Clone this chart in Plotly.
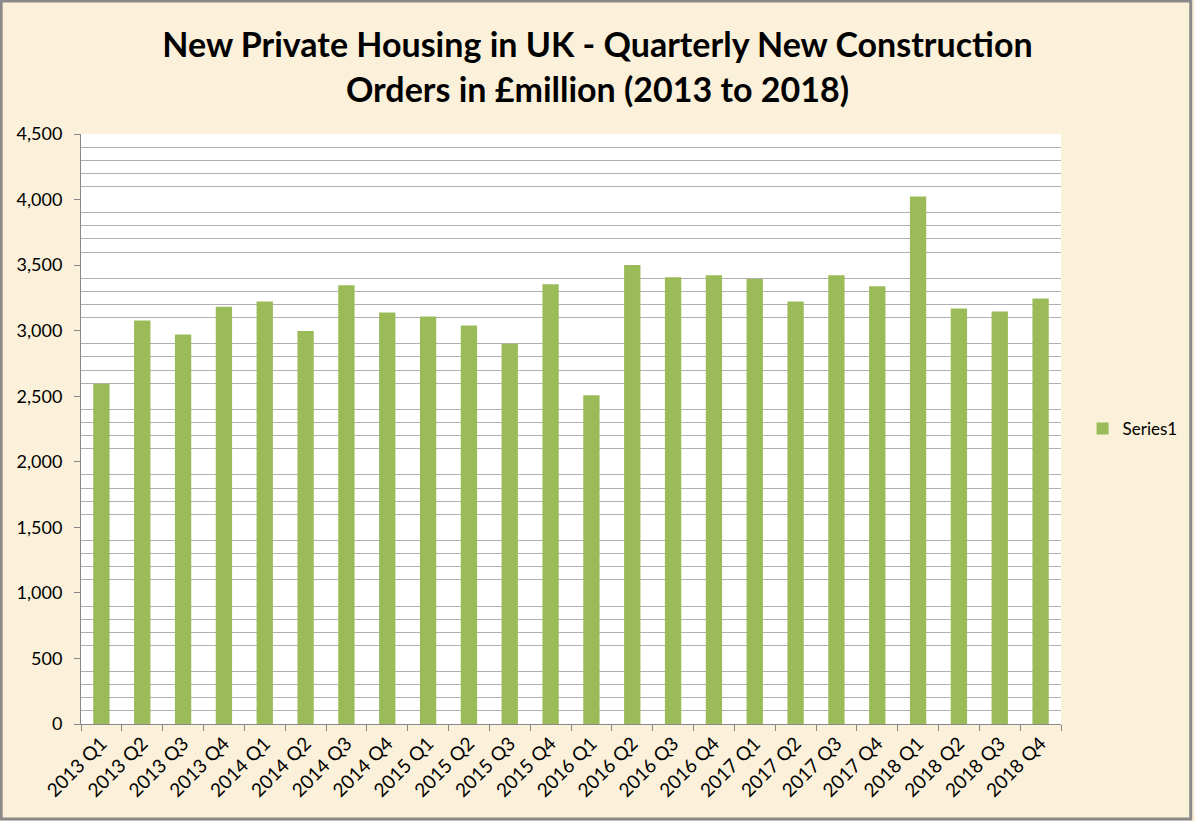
import plotly.graph_objects as go

# quarterly new construction orders, £ million
quarters = ["2013 Q1", "2013 Q2", "2013 Q3", "2013 Q4",
            "2014 Q1", "2014 Q2", "2014 Q3", "2014 Q4",
            "2015 Q1", "2015 Q2", "2015 Q3", "2015 Q4",
            "2016 Q1", "2016 Q2", "2016 Q3", "2016 Q4",
            "2017 Q1", "2017 Q2", "2017 Q3", "2017 Q4",
            "2018 Q1", "2018 Q2", "2018 Q3", "2018 Q4"]
orders = [2595, 3078, 2970, 3183,
          3222, 2997, 3346, 3138,
          3108, 3040, 2900, 3354,
          2508, 3500, 3408, 3423,
          3395, 3223, 3423, 3338,
          4023, 3169, 3146, 3246]

W, H = 1195, 821
ml, mr, mt, mb = 81, 132, 134, 97
pw, ph = W - ml - mr, H - mt - mb

fig = go.Figure()
fig.add_trace(go.Bar(x=quarters, y=orders, name="Series1",
                     marker=dict(color="#9BBB59", line=dict(width=0))))

fig.update_layout(
    width=W, height=H,
    margin=dict(l=ml, r=mr, t=mt, b=mb),
    paper_bgcolor="#FBF0D9",
    plot_bgcolor="#FFFFFF",
    bargap=0.6,
    font=dict(family="Lato, Open Sans, sans-serif", color="#000000"),
    title=dict(text="<b>New Private Housing in UK - Quarterly New Construction<br>Orders in £million (2013 to 2018)</b>",
               x=0.5, xref="container", y=0.93, yref="container", yanchor="middle",
               font=dict(size=34, family="Lato, sans-serif", color="#000000")),
    showlegend=True,
    legend=dict(x=1.022, y=0.5, xanchor="left", yanchor="middle",
                bgcolor="rgba(0,0,0,0)", font=dict(size=17)),
)

fig.update_yaxes(range=[0, 4500], dtick=500, tickformat=",",
                 showgrid=False,
                 minor=dict(dtick=100, showgrid=True, gridcolor="#B0B0B0", gridwidth=1),
                 ticks="outside", ticklen=6, tickcolor="#888888",
                 showline=True, linecolor="#888888", linewidth=1,
                 ticklabelstandoff=8,
                 tickfont=dict(size=18), zeroline=False)
fig.update_xaxes(tickson="boundaries", ticks="outside", ticklen=6, tickcolor="#888888",
                 showline=True, linecolor="#888888", linewidth=1,
                 tickangle=-45, tickfont=dict(size=19), showgrid=False)

# grey outer border of the chart
fig.add_shape(type="rect", xref="paper", yref="paper",
              x0=-(ml - 1) / pw, x1=(pw + mr - 2) / pw,
              y0=-(mb - 2) / ph, y1=(ph + mt - 1) / ph,
              line=dict(color="#8A8A8A", width=3), layer="above")

fig.write_html("out.html", config={"displayModeBar": False},
               post_script="document.body.style.margin='0px';")
